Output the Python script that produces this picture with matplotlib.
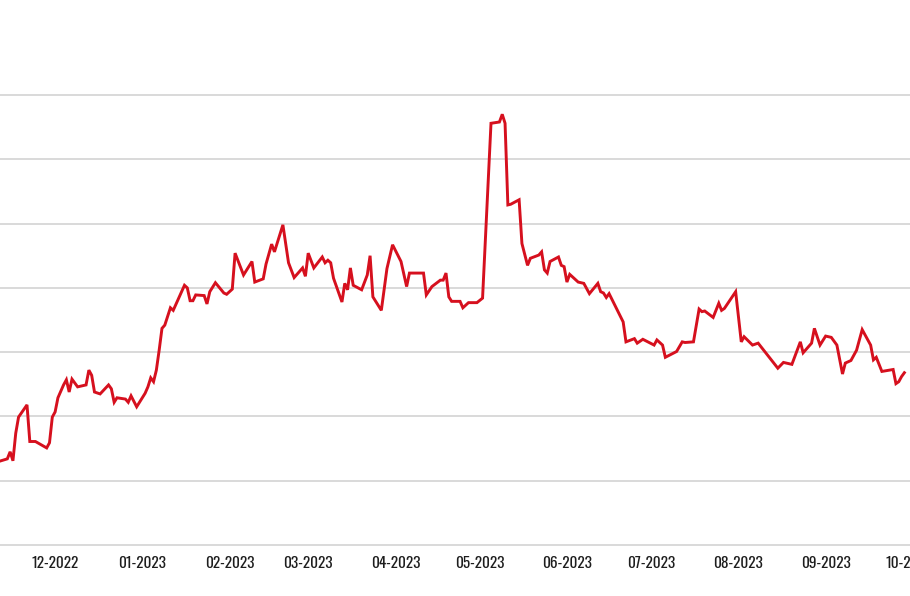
import matplotlib
matplotlib.use("Agg")
import matplotlib.pyplot as plt
import matplotlib.dates as mdates
from matplotlib import font_manager
import pandas as pd

# price series (y units are arbitrary, grid every 10)
dates = [
    "2022-11-11", "2022-11-14", "2022-11-15", "2022-11-16", "2022-11-17", "2022-11-18",
    "2022-11-21", "2022-11-22", "2022-11-24", "2022-11-28", "2022-11-29", "2022-11-30",
    "2022-12-01", "2022-12-02", "2022-12-04", "2022-12-05", "2022-12-06", "2022-12-07",
    "2022-12-09", "2022-12-12", "2022-12-13", "2022-12-14", "2022-12-15", "2022-12-17",
    "2022-12-20", "2022-12-21", "2022-12-22", "2022-12-23", "2022-12-26", "2022-12-27",
    "2022-12-28", "2022-12-30",
    "2023-01-02", "2023-01-03", "2023-01-04", "2023-01-05", "2023-01-06", "2023-01-07",
    "2023-01-08", "2023-01-09", "2023-01-11", "2023-01-12", "2023-01-16", "2023-01-17",
    "2023-01-18", "2023-01-19", "2023-01-20", "2023-01-23", "2023-01-24", "2023-01-25",
    "2023-01-27", "2023-01-30", "2023-01-31",
    "2023-02-02", "2023-02-03", "2023-02-06", "2023-02-09", "2023-02-10", "2023-02-13",
    "2023-02-14", "2023-02-16", "2023-02-17", "2023-02-20", "2023-02-22", "2023-02-24",
    "2023-02-27", "2023-02-28",
    "2023-03-01", "2023-03-03", "2023-03-06", "2023-03-07", "2023-03-08", "2023-03-09",
    "2023-03-10", "2023-03-13", "2023-03-14", "2023-03-15", "2023-03-16", "2023-03-17",
    "2023-03-20", "2023-03-22", "2023-03-23", "2023-03-24", "2023-03-27", "2023-03-29",
    "2023-03-31",
    "2023-04-03", "2023-04-05", "2023-04-06", "2023-04-11", "2023-04-12", "2023-04-14",
    "2023-04-17", "2023-04-18", "2023-04-19", "2023-04-20", "2023-04-21", "2023-04-24",
    "2023-04-25", "2023-04-27", "2023-04-30",
    "2023-05-02", "2023-05-03", "2023-05-05", "2023-05-08", "2023-05-09", "2023-05-10",
    "2023-05-11", "2023-05-12", "2023-05-15", "2023-05-16", "2023-05-18", "2023-05-19",
    "2023-05-22", "2023-05-23", "2023-05-24", "2023-05-25", "2023-05-26", "2023-05-29",
    "2023-05-30", "2023-05-31",
    "2023-06-01", "2023-06-02", "2023-06-05", "2023-06-07", "2023-06-09", "2023-06-12",
    "2023-06-13", "2023-06-14", "2023-06-15", "2023-06-16", "2023-06-21", "2023-06-22",
    "2023-06-25", "2023-06-26", "2023-06-28",
    "2023-07-02", "2023-07-03", "2023-07-05", "2023-07-06", "2023-07-10", "2023-07-12",
    "2023-07-13", "2023-07-16", "2023-07-18", "2023-07-19", "2023-07-20", "2023-07-23",
    "2023-07-25", "2023-07-26", "2023-07-27", "2023-07-31",
    "2023-08-02", "2023-08-03", "2023-08-06", "2023-08-08", "2023-08-15", "2023-08-17",
    "2023-08-20", "2023-08-23", "2023-08-24", "2023-08-27", "2023-08-28", "2023-08-30",
    "2023-09-01", "2023-09-03", "2023-09-05", "2023-09-07", "2023-09-08", "2023-09-10",
    "2023-09-12", "2023-09-14", "2023-09-17", "2023-09-18", "2023-09-19", "2023-09-21",
    "2023-09-25", "2023-09-26", "2023-09-27", "2023-09-28", "2023-09-29",
]
values = [
    13.0, 13.4, 14.5, 13.1, 17.4, 19.9,
    21.8, 16.1, 16.1, 15.1, 15.9, 19.9,
    20.7, 22.9, 24.9, 25.7, 23.8, 25.8,
    24.6, 24.9, 27.2, 26.4, 23.8, 23.5,
    24.9, 24.3, 22.2, 22.9, 22.7, 22.2,
    23.2, 21.5,
    23.6, 24.6, 26.0, 25.4, 27.2, 30.3,
    33.7, 34.2, 36.9, 36.5, 40.4, 40.0,
    38.0, 38.0, 38.9, 38.8, 37.5, 39.4,
    40.8, 39.2, 39.0,
    39.8, 45.4, 42.0, 44.1, 40.9, 41.4,
    43.7, 46.8, 45.6, 49.8, 43.9, 41.6,
    43.1, 41.8,
    45.4, 43.1, 44.8, 43.9, 44.3, 43.9,
    41.5, 37.8, 40.7, 39.7, 43.1, 40.4,
    39.7, 42.0, 45.0, 38.6, 36.5, 43.0,
    46.7,
    44.1, 40.2, 42.3, 42.3, 38.9, 40.2,
    41.2, 41.2, 42.3, 38.6, 37.9, 37.9,
    36.9, 37.7, 37.7,
    38.4, 47.4, 65.6, 65.8, 67.0, 65.6,
    52.9, 53.0, 53.7, 46.9, 43.5, 44.6,
    45.1, 45.6, 42.8, 42.3, 44.1, 44.8,
    43.5, 43.3,
    40.9, 42.1, 40.9, 40.7, 39.1, 40.7,
    39.4, 39.2, 38.5, 39.1, 34.7, 31.6,
    32.1, 31.4, 32.0,
    31.1, 31.9, 31.1, 29.2, 30.1, 31.6,
    31.5, 31.6, 36.7, 36.3, 36.4, 35.4,
    37.6, 36.5, 36.8, 39.4,
    31.6, 32.4, 31.1, 31.4, 27.5, 28.4,
    28.1, 31.6, 29.9, 31.4, 33.7, 31.1,
    32.5, 32.3, 31.1, 26.6, 28.3, 28.7,
    30.3, 33.5, 31.1, 28.8, 29.2, 27.0,
    27.3, 25.1, 25.4, 26.2, 26.8,
]
month_ticks = ["2022-12-01", "2023-01-01", "2023-02-01", "2023-03-01", "2023-04-01",
               "2023-05-01", "2023-06-01", "2023-07-01", "2023-08-01", "2023-09-01",
               "2023-10-01"]
grid_levels = [0, 10, 20, 30, 40, 50, 60, 70]

# narrow font for the month labels, first one that is installed
names = {f.name for f in font_manager.fontManager.ttflist}
label_font = [n for n in ["Oswald", "Roboto Condensed", "Barlow Condensed", "Archivo Narrow"]
              if n in names][:1] + ["DejaVu Sans"]

x = pd.to_datetime(dates)
ticks = pd.to_datetime(month_ticks)

fig = plt.figure(figsize=(9.10, 5.96), dpi=100)
# the plot is cropped on both sides, so the axes fill the full width
ax = fig.add_axes([0, 1 - 545 / 596, 1, 450 / 596])

ax.plot(x, values, color="#d6101e", linewidth=2.1, solid_joinstyle="miter", zorder=3)

start = pd.Timestamp("2022-12-01")
ax.set_xlim(mdates.date2num(start) - 19.6, mdates.date2num(start) + 300.3)
ax.set_ylim(grid_levels[0], grid_levels[-1])

ax.set_yticks(grid_levels)
ax.set_yticklabels([])
ax.yaxis.grid(True, color="#d9d9d9", linewidth=1.4)
for gl in ax.yaxis.get_gridlines():
    gl.set_clip_on(False)
ax.set_xticks(ticks)
ax.set_xticklabels([t.strftime("%m-%Y") for t in ticks], family=label_font,
                   fontsize=11, fontweight="normal", color="#1e1e1e")
ax.tick_params(axis="both", length=0)
ax.tick_params(axis="x", pad=8)
for s in ax.spines.values():
    s.set_visible(False)

fig.savefig("out.png", dpi=100)
